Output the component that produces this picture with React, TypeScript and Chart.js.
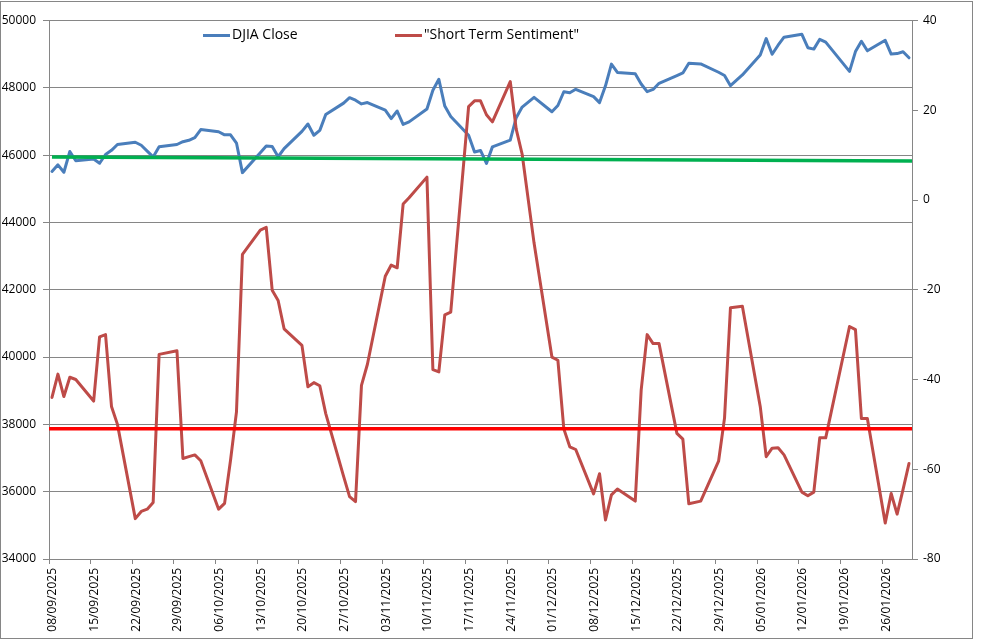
import { useEffect, useRef } from 'react';
import { Chart, registerables } from 'chart.js';

Chart.register(...registerables);

// ---------- DATA ----------
const tradingDates: string[] = [
  '2025-09-08', '2025-09-09', '2025-09-10', '2025-09-11', '2025-09-12',
  '2025-09-15', '2025-09-16', '2025-09-17', '2025-09-18', '2025-09-19',
  '2025-09-22', '2025-09-23', '2025-09-24', '2025-09-25', '2025-09-26',
  '2025-09-29', '2025-09-30', '2025-10-01', '2025-10-02', '2025-10-03',
  '2025-10-06', '2025-10-07', '2025-10-08', '2025-10-09', '2025-10-10',
  '2025-10-13', '2025-10-14', '2025-10-15', '2025-10-16', '2025-10-17',
  '2025-10-20', '2025-10-21', '2025-10-22', '2025-10-23', '2025-10-24',
  '2025-10-27', '2025-10-28', '2025-10-29', '2025-10-30', '2025-10-31',
  '2025-11-03', '2025-11-04', '2025-11-05', '2025-11-06', '2025-11-07',
  '2025-11-10', '2025-11-11', '2025-11-12', '2025-11-13', '2025-11-14',
  '2025-11-17', '2025-11-18', '2025-11-19', '2025-11-20', '2025-11-21',
  '2025-11-24', '2025-11-25', '2025-11-26', '2025-11-28',
  '2025-12-01', '2025-12-02', '2025-12-03', '2025-12-04', '2025-12-05',
  '2025-12-08', '2025-12-09', '2025-12-10', '2025-12-11', '2025-12-12',
  '2025-12-15', '2025-12-16', '2025-12-17', '2025-12-18', '2025-12-19',
  '2025-12-22', '2025-12-23', '2025-12-24', '2025-12-26',
  '2025-12-29', '2025-12-30', '2025-12-31', '2026-01-02',
  '2026-01-05', '2026-01-06', '2026-01-07', '2026-01-08', '2026-01-09',
  '2026-01-12', '2026-01-13', '2026-01-14', '2026-01-15', '2026-01-16',
  '2026-01-20', '2026-01-21', '2026-01-22', '2026-01-23',
  '2026-01-26', '2026-01-27', '2026-01-28', '2026-01-29', '2026-01-30',
];

const djiaClose: number[] = [
  45515, 45711, 45491, 46108, 45834,
  45883, 45758, 46018, 46142, 46315,
  46382, 46293, 46121, 45947, 46247,
  46316, 46398, 46441, 46520, 46758,
  46695, 46603, 46602, 46358, 45480,
  46068, 46270, 46253, 45952, 46191,
  46707, 46925, 46590, 46735, 47207,
  47545, 47706, 47632, 47522, 47563,
  47337, 47085, 47311, 46912, 46987,
  47369, 47928, 48255, 47457, 47147,
  46590, 46092, 46139, 45752, 46245,
  46448, 47112, 47427, 47716,
  47289, 47474, 47883, 47851, 47955,
  47739, 47560, 48058, 48704, 48458,
  48417, 48114, 47886, 47952, 48135,
  48363, 48442, 48731, 48711,
  48462, 48367, 48063, 48382,
  48977, 49462, 48996, 49266, 49504,
  49590, 49192, 49150, 49442, 49359,
  48489, 49077, 49384, 49099,
  49412, 49003, 49016, 49072, 48892,
];

const shortTermSentiment: number[] = [
  -44, -38.8, -43.8, -39.5, -40,
  -44.8, -30.5, -30, -46, -50,
  -71, -69.4, -68.9, -67.4, -34.4,
  -33.6, -57.6, -57.2, -56.8, -58.1,
  -68.9, -67.6, -58, -47.2, -12.1,
  -6.7, -6.1, -20.1, -22.4, -28.7,
  -32.4, -41.6, -40.7, -41.4, -47.6,
  -61.6, -66.1, -67.2, -41.3, -36.6,
  -17, -14.5, -15.1, -0.9, 0.5,
  5.1, -37.8, -38.3, -25.6, -25,
  20.8, 22.1, 22.1, 19, 17.4,
  26.4, 15.8, 10.2, -9.6,
  -35, -35.7, -51, -55, -55.6,
  -65.5, -61, -71.3, -65.7, -64.4,
  -67.1, -42.3, -30, -32, -32,
  -52, -53.3, -67.7, -67.1,
  -58.2, -48.6, -24, -23.7,
  -46, -57.2, -55.3, -55.2, -56.8,
  -65.1, -65.9, -65.1, -53, -53,
  -28.2, -28.9, -48.7, -48.7,
  -72, -65.4, -70, -64.5, -58.7,
];

// Reference lines (right axis)
const greenLineDates: string[] = ['2025-09-08', '2026-01-31'];
const greenLineValues: number[] = [9.6, 8.7];
const redLineDates: string[] = ['2025-09-07', '2026-01-31'];
const redLineValues: number[] = [-51, -51];

const xTickLabels: string[] = [
  '08/09/2025', '15/09/2025', '22/09/2025', '29/09/2025', '06/10/2025',
  '13/10/2025', '20/10/2025', '27/10/2025', '03/11/2025', '10/11/2025',
  '17/11/2025', '24/11/2025', '01/12/2025', '08/12/2025', '15/12/2025',
  '22/12/2025', '29/12/2025', '05/01/2026', '12/01/2026', '19/01/2026',
  '26/01/2026',
];

const axisStartDate = '2025-09-08';
const axisEndDate = '2026-01-30';

const seriesLabels: string[] = ['DJIA Close', '"Short Term Sentiment"'];

// ---------- helpers ----------
const DAY = 86400000;
const isoToUTC = (s: string) => {
  const [y, m, d] = s.split('-').map(Number);
  return Date.UTC(y, m - 1, d);
};
const dmyToUTC = (s: string) => {
  const [d, m, y] = s.split('/').map(Number);
  return Date.UTC(y, m - 1, d);
};
const base = isoToUTC(axisStartDate);
const dayOf = (iso: string) => (isoToUTC(iso) - base) / DAY;
const tickDays = xTickLabels.map((l) => (dmyToUTC(l) - base) / DAY - 0.5);

const BLUE = '#4A7EBB';
const DARKRED = '#BE4B48';
const GREEN = '#00B050';
const RED = '#FF0000';
const GRAY = '#868686';
const FONT = "'Open Sans', 'Liberation Sans', sans-serif";

const decorPlugin = {
  id: 'decor',
  afterDraw(chart: any) {
    const ctx = chart.ctx as CanvasRenderingContext2D;
    ctx.save();
    ctx.strokeStyle = GRAY;
    ctx.lineWidth = 1;
    ctx.strokeRect(0.5, 1.5, 972, 637);

    const items = [
      { x: 203, color: BLUE, text: seriesLabels[0] },
      { x: 395, color: DARKRED, text: seriesLabels[1] },
    ];
    const y = 35.5;
    ctx.font = `14px ${FONT}`;
    ctx.textBaseline = 'middle';
    ctx.textAlign = 'left';
    items.forEach((it) => {
      ctx.strokeStyle = it.color;
      ctx.lineWidth = 3;
      ctx.beginPath();
      ctx.moveTo(it.x, y);
      ctx.lineTo(it.x + 27, y);
      ctx.stroke();
      ctx.fillStyle = '#000';
      ctx.fillText(it.text, it.x + 29, y);
    });
    ctx.restore();
  },
};

export default function App() {
  const ref = useRef<HTMLCanvasElement | null>(null);

  useEffect(() => {
    document.body.style.margin = '0';
    const canvas = ref.current;
    if (!canvas) return;

    const djiaPts = tradingDates.map((d, i) => ({ x: dayOf(d), y: djiaClose[i] }));
    const sentPts = tradingDates.map((d, i) => ({ x: dayOf(d), y: shortTermSentiment[i] }));
    const greenPts = greenLineDates.map((d, i) => ({ x: dayOf(d), y: greenLineValues[i] }));
    const redPts = redLineDates.map((d, i) => ({ x: dayOf(d), y: redLineValues[i] }));

    const tickFont = { family: FONT, size: 12 };

    const chart = new Chart(canvas, {
      type: 'line',
      data: {
        datasets: [
          {
            label: 'red', data: redPts, yAxisID: 'y1', borderColor: RED, borderWidth: 3.5,
            pointRadius: 0, clip: 0 as any,
          },
          {
            label: 'green', data: greenPts, yAxisID: 'y1', borderColor: GREEN, borderWidth: 3.5,
            pointRadius: 0, clip: 0 as any,
          },
          {
            label: seriesLabels[1], data: sentPts, yAxisID: 'y1', borderColor: DARKRED, borderWidth: 3,
            pointRadius: 0, borderJoinStyle: 'round', borderCapStyle: 'round', tension: 0,
          },
          {
            label: seriesLabels[0], data: djiaPts, yAxisID: 'y', borderColor: BLUE, borderWidth: 3,
            pointRadius: 0, borderJoinStyle: 'round', borderCapStyle: 'round', tension: 0,
          },
        ] as any,
      },
      options: {
        responsive: false,
        animation: false,
        events: [],
        layout: { padding: { top: 20.5, left: 0, right: 0, bottom: 0 } },
        plugins: { legend: { display: false }, tooltip: { enabled: false } },
        scales: {
          x: {
            type: 'linear',
            min: -0.5,
            max: dayOf(axisEndDate) + 0.5,
            afterBuildTicks: (s: any) => {
              s.ticks = tickDays.map((v) => ({ value: v }));
            },
            afterFit: (s: any) => {
              s.height = 84;
            },
            grid: { drawOnChartArea: false, color: GRAY, tickLength: 5 },
            border: { color: GRAY },
            ticks: {
              minRotation: 90,
              maxRotation: 90,
              autoSkip: false,
              padding: 4,
              labelOffset: 4,
              color: '#000',
              font: tickFont,
              callback: (_v: any, i: number) => xTickLabels[i],
            },
          },
          y: {
            position: 'left',
            min: 34000,
            max: 50000,
            afterFit: (s: any) => {
              s.width = 49;
            },
            grid: { color: GRAY, tickLength: 6 },
            border: { color: GRAY },
            ticks: { stepSize: 2000, padding: 7, color: '#000', font: tickFont, callback: (v: any) => String(v) },
          },
          y1: {
            position: 'right',
            min: -80,
            max: 40,
            afterFit: (s: any) => {
              s.width = 69;
            },
            grid: { drawOnChartArea: false, color: GRAY, tickLength: 6 },
            border: { color: GRAY },
            ticks: { stepSize: 20, padding: 5, color: '#000', font: tickFont, callback: (v: any) => String(v) },
          },
        },
      } as any,
      plugins: [decorPlugin],
    });

    return () => chart.destroy();
  }, []);

  return (
    <div style={{ width: 981, height: 643, background: '#fff' }}>
      <canvas ref={ref} width={981} height={643} style={{ display: 'block' }} />
    </div>
  );
}
